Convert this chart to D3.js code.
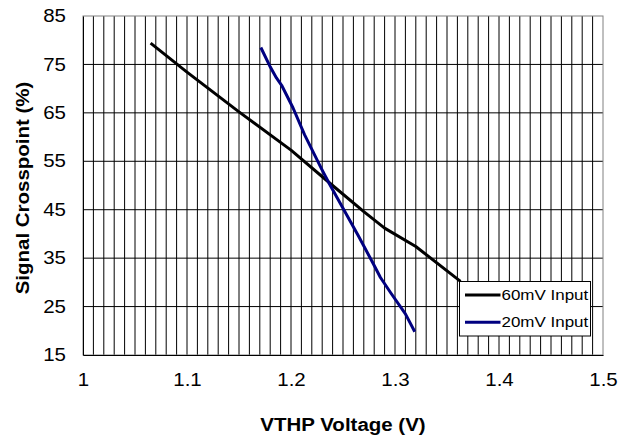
<!DOCTYPE html>
<html>
<head>
<meta charset="utf-8">
<script src="https://cdn.jsdelivr.net/npm/d3@7"></script>
<style>
    body { margin: 0; background: #fff; }
    text { font-family: Arial, "Liberation Sans", sans-serif; }
</style>
</head>
<body>
<script>
var xTicks = [1, 1.1, 1.2, 1.3, 1.4, 1.5];
var yTicks = [15, 25, 35, 45, 55, 65, 75, 85];

var series60 = [
    [1.065, 79.4], [1.10, 73.4], [1.15, 65.2], [1.20, 57.3], [1.24, 50.0],
    [1.27, 44.6], [1.29, 41.2], [1.32, 37.4], [1.363, 30.2]
];
var series20 = [
    [1.171, 78.5], [1.180, 74.5], [1.186, 72.2], [1.191, 70.7], [1.202, 66.0],
    [1.213, 60.5], [1.229, 53.6], [1.237, 50.3], [1.250, 45.3], [1.265, 39.5],
    [1.279, 33.9], [1.286, 31.0], [1.296, 27.8], [1.310, 23.5], [1.319, 19.8]
];
var seriesNames = ["60mV Input", "20mV Input"];
var seriesColors = ["#000000", "#000080"];

var w = 619;
var h = 438;
var margin = {
    top: 16,
    right: 16,
    bottom: 83,
    left: 83
};
var width = w - margin.left - margin.right,
    height = h - margin.top - margin.bottom;
var stretch = 1.17; // the original's text is drawn a bit wider than Arial

var svg = d3.select("body").append("svg")
    .attr("width", w)
    .attr("height", h);

var chart = svg.append("g")
    .attr("transform", "translate(" + margin.left + "," + margin.top + ")");

var x = d3.scaleLinear().domain([1, 1.5]).range([0, width]);
var y = d3.scaleLinear().domain([15, 85]).range([height, 0]);

// grid: every 0.01 V, every 10 %
var minor = d3.range(1, 50).map(function (i) { return 1 + i / 100; });
chart.selectAll(".vgrid")
    .data(minor)
    .enter()
    .append("line")
    .attr("class", "vgrid")
    .attr("x1", function (d) { return x(d); })
    .attr("x2", function (d) { return x(d); })
    .attr("y1", 0)
    .attr("y2", height)
    .style("stroke", "#000")
    .style("stroke-width", 1);

chart.selectAll(".hgrid")
    .data(yTicks.slice(1, -1))
    .enter()
    .append("line")
    .attr("class", "hgrid")
    .attr("x1", 0)
    .attr("x2", width)
    .attr("y1", function (d) { return y(d); })
    .attr("y2", function (d) { return y(d); })
    .style("stroke", "#000")
    .style("stroke-width", 1);

// plot border (grey), axis lines (black)
chart.append("rect")
    .attr("x", 0).attr("y", 0)
    .attr("width", width).attr("height", height)
    .style("fill", "none")
    .style("stroke", "#808080");

var xAxis = d3.axisBottom(x).tickValues(xTicks).tickSize(0).tickPadding(19)
    .tickFormat(function (d) { return String(d); });
var yAxis = d3.axisLeft(y).tickValues(yTicks).tickSize(0).tickPadding(17);

chart.append("g")
    .attr("transform", "translate(0," + height + ")")
    .call(xAxis)
    .call(function (g) {
        g.select(".domain").style("stroke", "#000");
        g.selectAll("text").style("font-size", "17.5px").style("fill", "#000");
    });

chart.append("g")
    .call(yAxis)
    .call(function (g) {
        g.select(".domain").style("stroke", "#000");
        g.selectAll("text").style("font-size", "17.5px").style("fill", "#000");
    });

// lines
var line = d3.line()
    .x(function (d) { return x(d[0]); })
    .y(function (d) { return y(d[1]); });

[series60, series20].forEach(function (s, i) {
    chart.append("path")
        .datum(s)
        .attr("d", line)
        .style("fill", "none")
        .style("stroke", seriesColors[i])
        .style("stroke-width", 3)
        .style("stroke-linejoin", "round");
});

// legend
var legend = svg.append("g")
    .attr("transform", "translate(459.5,281.5)");
legend.append("rect")
    .attr("width", 131)
    .attr("height", 54.5)
    .style("fill", "#fff")
    .style("stroke", "#000");
seriesNames.forEach(function (name, i) {
    var ly = 13.5 + i * 27.3;
    legend.append("line")
        .attr("x1", 5.5).attr("x2", 41)
        .attr("y1", ly).attr("y2", ly)
        .style("stroke", seriesColors[i])
        .style("stroke-width", 3);
    legend.append("text")
        .attr("x", 42)
        .attr("y", ly + 5)
        .style("font-size", "14.5px")
        .text(name);
});

// axis titles
svg.append("text")
    .attr("x", margin.left + width / 2)
    .attr("y", 431)
    .attr("text-anchor", "middle")
    .style("font-size", "17.5px")
    .style("font-weight", "bold")
    .text("VTHP Voltage (V)");

svg.append("text")
    .attr("transform", "translate(28.5,188) rotate(-90)")
    .attr("text-anchor", "middle")
    .style("font-size", "17.5px")
    .style("font-weight", "bold")
    .text("Signal Crosspoint (%)");

// widen all text to match
svg.selectAll("text").each(function () {
    var len = this.getComputedTextLength();
    d3.select(this)
        .attr("textLength", len * stretch)
        .attr("lengthAdjust", "spacingAndGlyphs");
});
</script>
</body>
</html>
